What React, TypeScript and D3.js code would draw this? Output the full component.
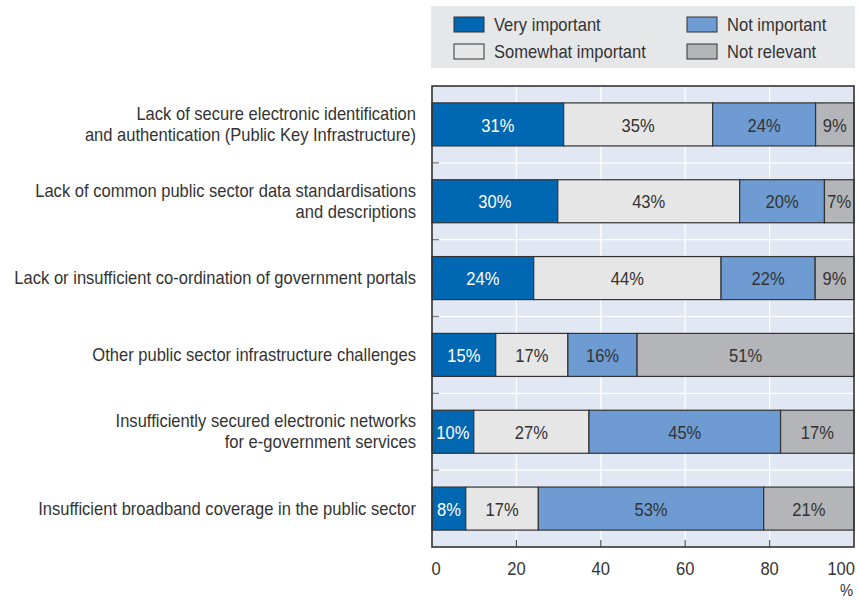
import React from "react";
import * as d3 from "d3";

const categories: string[][] = [
  ["Lack of secure electronic identification", "and authentication (Public Key Infrastructure)"],
  ["Lack of common public sector data standardisations", "and descriptions"],
  ["Lack or insufficient co-ordination of government portals"],
  ["Other public sector infrastructure challenges"],
  ["Insufficiently secured electronic networks", "for e-government services"],
  ["Insufficient broadband coverage in the public sector"],
];
const seriesNames = ["Very important", "Somewhat important", "Not important", "Not relevant"];
const veryImportant = [31.2, 29.8, 24.1, 15.1, 9.9, 8.0];
const somewhatImportant = [35.3, 43.1, 44.4, 17.1, 27.3, 17.2];
const notImportant = [24.4, 20.1, 22.3, 16.4, 45.4, 53.4];
const notRelevant = [9.1, 7.0, 9.2, 51.4, 17.4, 21.4];
const xTicks = [0, 20, 40, 60, 80, 100];

const colors = ["#0067b2", "#e6e6e6", "#6e9bd2", "#b4b5b8"];
const textColors = ["#ffffff", "#333333", "#333333", "#333333"];
const FONT = "'Liberation Sans', Arial, sans-serif";
const SX = 0.92;
const FS = 18;

function T(props: { x: number; y: number; anchor?: "start" | "middle" | "end"; fill?: string; size?: number; children: React.ReactNode }) {
  const { x, y, anchor = "start", fill = "#333", size = FS, children } = props;
  return (
    <text
      transform={`translate(${x},${y}) scale(${SX},1)`}
      textAnchor={anchor}
      dominantBaseline="central"
      fontSize={size}
      fill={fill}
    >
      {children}
    </text>
  );
}

export default function App() {
  const W = 858, H = 600;
  const left = 432, right = 854, top = 86, bottom = 547;
  const x = d3.scaleLinear().domain([0, 100]).range([left, right]);
  const y = d3.scaleBand<number>().domain(d3.range(categories.length)).range([top, bottom]).paddingInner(0.44).paddingOuter(0.22);
  const series = [veryImportant, somewhatImportant, notImportant, notRelevant];
  const step = y.step();
  const boundaries = d3.range(1, categories.length).map((i) => top + i * step);

  return (
    <svg width={W} height={H} style={{ position: "absolute", left: 0, top: 0 }} fontFamily={FONT}>
      {/* legend */}
      <rect x={431} y={6} width={424} height={62} fill="#e6e7e8" />
      {seriesNames.map((name, i) => {
        const col = i === 0 || i === 1 ? 0 : 1;
        const row = i === 0 || i === 2 ? 0 : 1;
        const sx = col === 0 ? 454 : 687;
        const sy = row === 0 ? 17 : 44;
        return (
          <g key={name}>
            <rect x={sx} y={sy} width={30} height={15} fill={colors[i]} stroke="#333" strokeWidth={1} />
            <T x={sx + 40} y={sy + 8}>{name}</T>
          </g>
        );
      })}
      {/* plot background */}
      <rect x={left} y={top} width={right - left} height={bottom - top} fill="#e1e8f3" />
      {xTicks.slice(1, -1).map((t) => (
        <line key={t} x1={x(t)} x2={x(t)} y1={top} y2={bottom} stroke="#fff" strokeWidth={1.2} />
      ))}
      {boundaries.map((b, i) => (
        <line key={i} x1={left} x2={right} y1={b} y2={b} stroke="#fff" strokeWidth={1.2} />
      ))}
      {boundaries.map((b, i) => (
        <line key={"lt" + i} x1={left} x2={left + 7} y1={b} y2={b} stroke="#777" strokeWidth={1.2} />
      ))}
      {/* bars */}
      {categories.map((_, ci) => {
        let acc = 0;
        return (
          <g key={ci}>
            {series.map((s, si) => {
              const v = s[ci];
              const x0 = x(acc);
              acc += v;
              const x1 = x(Math.min(acc, 100));
              const by = y(ci)!;
              return (
                <g key={si}>
                  <rect x={x0} y={by} width={x1 - x0} height={y.bandwidth()} fill={colors[si]} stroke="#333" strokeWidth={1.2} />
                  <T x={(x0 + x1) / 2} y={by + y.bandwidth() / 2 + 1} anchor="middle" fill={textColors[si]}>
                    {Math.round(v)}%
                  </T>
                </g>
              );
            })}
          </g>
        );
      })}
      {/* bottom ticks */}
      {xTicks.slice(1, -1).map((t) => (
        <line key={"bt" + t} x1={x(t)} x2={x(t)} y1={bottom} y2={bottom - 7} stroke="#555" strokeWidth={1.2} />
      ))}
      <rect x={left} y={top} width={right - left} height={bottom - top} fill="none" stroke="#333" strokeWidth={1.6} />
      {/* x labels */}
      {xTicks.map((t) => (
        <T key={"xl" + t} x={t === 100 ? 855 : x(t) + (t === 0 ? 4 : 0)} y={569} anchor={t === 100 ? "end" : "middle"}>
          {t}
        </T>
      ))}
      <T x={853} y={590} anchor="end" size={16}>%</T>
      {/* category labels */}
      {categories.map((lines, ci) => {
        const cy = y(ci)! + y.bandwidth() / 2;
        const lh = 21;
        return (
          <g key={"c" + ci}>
            {lines.map((ln, li) => (
              <T key={li} x={416} y={cy + (li - (lines.length - 1) / 2) * lh} anchor="end">{ln}</T>
            ))}
          </g>
        );
      })}
    </svg>
  );
}
